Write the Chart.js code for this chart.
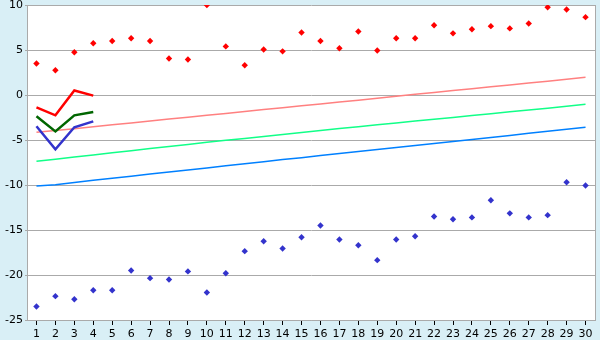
<!DOCTYPE html>
<html>
<head>
<meta charset="utf-8">
<script src="https://cdn.jsdelivr.net/npm/chart.js@4.4.1/dist/chart.umd.min.js"></script>
<style>
  html, body { margin: 0; padding: 0; background: #d9eff6; }
  #wrap { width: 600px; height: 340px; }
</style>
</head>
<body>
<div id="wrap"><canvas id="c" width="600" height="340"></canvas></div>
<script>
// categories along the bottom
const categories = ['1','2','3','4','5','6','7','8','9','10','11','12','13','14','15',
  '16','17','18','19','20','21','22','23','24','25','26','27','28','29','30'];

// scattered points
const redPoints = [3.5, 2.75, 4.75, 5.75, 6.0, 6.3, 6.0, 4.05, 3.95, 10.0,
  5.4, 3.3, 5.05, 4.85, 6.95, 6.0, 5.2, 7.05, 4.95, 6.3,
  6.3, 7.75, 6.85, 7.3, 7.65, 7.4, 7.95, 9.75, 9.5, 8.65];
const bluePoints = [-23.5, -22.35, -22.7, -21.7, -21.7, -19.5, -20.35, -20.5, -19.6, -21.95,
  -19.8, -17.35, -16.25, -17.05, -15.8, -14.5, -16.05, -16.7, -18.35, -16.05,
  -15.7, -13.5, -13.8, -13.6, -11.7, -13.15, -13.6, -13.35, -9.7, -10.05];

// thin trend lines
const pinkLine = [-4.15, -3.95, -3.74, -3.52, -3.31, -3.10, -2.88, -2.67, -2.46, -2.25,
  -2.05, -1.84, -1.62, -1.41, -1.20, -0.99, -0.78, -0.57, -0.36, -0.15,
  0.07, 0.28, 0.49, 0.70, 0.91, 1.12, 1.33, 1.54, 1.75, 1.96];
const lightGreenLine = [-7.37, -7.13, -6.90, -6.66, -6.42, -6.19, -5.95, -5.72, -5.49, -5.26,
  -5.04, -4.82, -4.60, -4.38, -4.16, -3.95, -3.73, -3.52, -3.31, -3.10,
  -2.89, -2.69, -2.49, -2.28, -2.08, -1.87, -1.67, -1.46, -1.25, -1.04];
const lightBlueLine = [-10.10, -9.98, -9.72, -9.48, -9.25, -9.02, -8.79, -8.56, -8.33, -8.10,
  -7.87, -7.64, -7.41, -7.18, -6.96, -6.73, -6.51, -6.28, -6.06, -5.83,
  -5.61, -5.39, -5.16, -4.94, -4.71, -4.49, -4.26, -4.04, -3.81, -3.59];

// short thick lines (first four categories)
const redShort = [-1.37, -2.26, 0.5, -0.07];
const greenShort = [-2.37, -4.04, -2.26, -1.89];
const blueShort = [-3.48, -6.04, -3.59, -2.93];

// y ticks
const yMin = -25, yMax = 10, yStep = 5;

const frame = {
  id: 'frame',
  beforeDraw(chart) {
    const { ctx, chartArea: a } = chart;
    ctx.save();
    ctx.fillStyle = '#d9eff6';
    ctx.fillRect(0, 0, chart.width, chart.height);
    ctx.fillStyle = '#ffffff';
    ctx.fillRect(a.left, a.top, a.right - a.left, a.bottom - a.top);
    ctx.restore();
  },
  afterDraw(chart) {
    const { ctx, chartArea: a } = chart;
    ctx.save();
    ctx.strokeStyle = '#aaaaaa';
    ctx.lineWidth = 1;
    ctx.beginPath();
    ctx.moveTo(a.right + 0.5, a.top);
    ctx.lineTo(a.right + 0.5, a.bottom);
    ctx.stroke();
    ctx.restore();
  }
};

function line(data, color, width, order) {
  return { type: 'line', data, borderColor: color, backgroundColor: color,
    borderWidth: width, pointRadius: 0, tension: 0, fill: false, order };
}
function dots(data, color, order) {
  return { type: 'line', data, showLine: false, borderColor: color, backgroundColor: color,
    pointStyle: 'rectRot', pointRadius: 3.2, pointBorderWidth: 0, order };
}

new Chart(document.getElementById('c'), {
  type: 'line',
  data: {
    labels: categories,
    datasets: [
      line(redShort, '#ff0000', 2.5, 1),
      line(greenShort, '#006600', 2.5, 2),
      line(blueShort, '#3333cc', 2.5, 3),
      dots(redPoints, '#ff0000', 4),
      dots(bluePoints, '#3333cc', 5),
      line(pinkLine, '#ff8080', 1.5, 6),
      line(lightGreenLine, '#11ff88', 1.5, 7),
      line(lightBlueLine, '#0080ff', 1.5, 8)
    ]
  },
  options: {
    responsive: false, animation: false,
    layout: { padding: { top: 5, right: 5, left: 0, bottom: 0 } },
    plugins: { legend: { display: false }, tooltip: { enabled: false } },
    scales: {
      x: {
        offset: true,
        grid: { drawOnChartArea: false, drawTicks: true, tickLength: 5, tickColor: '#000', offset: false },
        border: { color: '#aaaaaa' },
        ticks: { color: '#000', font: { family: 'DejaVu Sans', size: 11 }, padding: 3, maxRotation: 0, autoSkip: false },
        afterFit(s) { s.height = 20; s.paddingLeft = 0; s.paddingRight = 0; }
      },
      y: {
        min: yMin, max: yMax,
        grid: { color: '#aaaaaa', tickLength: 2, tickColor: '#aaaaaa' },
        border: { color: '#aaaaaa' },
        ticks: { stepSize: yStep, color: '#000', font: { family: 'DejaVu Sans', size: 11 }, padding: 2 },
        afterFit(s) { s.width = 27; s.paddingTop = 0; s.paddingBottom = 0; }
      }
    }
  },
  plugins: [frame]
});
</script>
</body>
</html>
